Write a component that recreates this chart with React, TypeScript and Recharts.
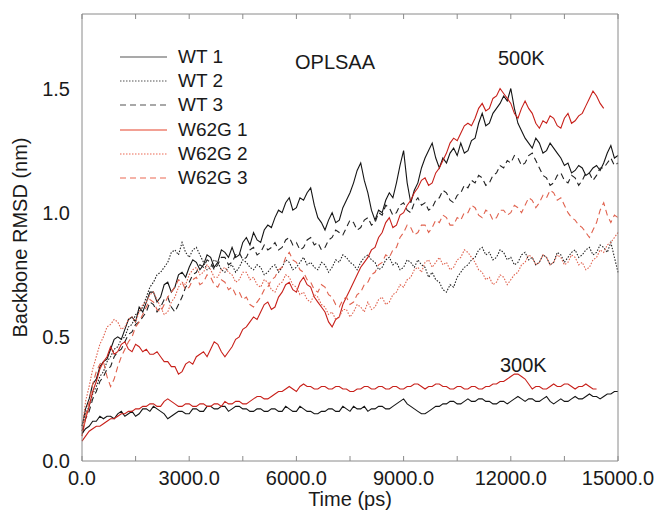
import { Legend, Line, LineChart, XAxis, YAxis } from 'recharts'

// simulation time (ps), one frame every 100 ps
const time = [
  0, 100, 200, 300, 400, 500, 600, 700, 800, 900,
  1000, 1100, 1200, 1300, 1400, 1500, 1600, 1700, 1800, 1900,
  2000, 2100, 2200, 2300, 2400, 2500, 2600, 2700, 2800, 2900,
  3000, 3100, 3200, 3300, 3400, 3500, 3600, 3700, 3800, 3900,
  4000, 4100, 4200, 4300, 4400, 4500, 4600, 4700, 4800, 4900,
  5000, 5100, 5200, 5300, 5400, 5500, 5600, 5700, 5800, 5900,
  6000, 6100, 6200, 6300, 6400, 6500, 6600, 6700, 6800, 6900,
  7000, 7100, 7200, 7300, 7400, 7500, 7600, 7700, 7800, 7900,
  8000, 8100, 8200, 8300, 8400, 8500, 8600, 8700, 8800, 8900,
  9000, 9100, 9200, 9300, 9400, 9500, 9600, 9700, 9800, 9900,
  10000, 10100, 10200, 10300, 10400, 10500, 10600, 10700, 10800, 10900,
  11000, 11100, 11200, 11300, 11400, 11500, 11600, 11700, 11800, 11900,
  12000, 12100, 12200, 12300, 12400, 12500, 12600, 12700, 12800, 12900,
  13000, 13100, 13200, 13300, 13400, 13500, 13600, 13700, 13800, 13900,
  14000, 14100, 14200, 14300, 14400, 14500, 14600, 14700, 14800, 14900,
  15000,
]

// 500K runs, backbone RMSD (nm)
const wt1 = [
  0.14, 0.21, 0.25, 0.31, 0.33, 0.38, 0.40, 0.41, 0.45, 0.49,
  0.50, 0.49, 0.53, 0.57, 0.58, 0.56, 0.62, 0.60, 0.64, 0.68,
  0.68, 0.64, 0.66, 0.71, 0.72, 0.68, 0.70, 0.75, 0.76, 0.74,
  0.78, 0.81, 0.80, 0.77, 0.79, 0.83, 0.82, 0.78, 0.80, 0.85,
  0.84, 0.82, 0.86, 0.82, 0.83, 0.88, 0.90, 0.87, 0.92, 0.89,
  0.88, 0.93, 0.95, 0.94, 0.98, 1.01, 1.00, 1.04, 1.06, 1.01,
  1.02, 1.06, 1.05, 1.08, 1.10, 1.03, 0.98, 0.96, 0.93, 0.97,
  1.00, 0.96, 0.97, 1.02, 1.05, 1.08, 1.12, 1.17, 1.20, 1.13,
  1.08, 1.01, 0.97, 1.01, 1.00, 1.05, 1.08, 1.06, 1.12, 1.19,
  1.25, 1.12, 1.04, 1.09, 1.12, 1.18, 1.22, 1.25, 1.28, 1.22,
  1.18, 1.22, 1.20, 1.24, 1.26, 1.23, 1.28, 1.24, 1.25, 1.29,
  1.30, 1.36, 1.40, 1.35, 1.36, 1.40, 1.42, 1.44, 1.47, 1.45,
  1.50, 1.42, 1.36, 1.33, 1.30, 1.28, 1.26, 1.30, 1.28, 1.24,
  1.25, 1.28, 1.26, 1.24, 1.22, 1.19, 1.20, 1.16, 1.17, 1.19,
  1.18, 1.15, 1.16, 1.18, 1.19, 1.17, 1.20, 1.24, 1.27, 1.22,
  1.23,
]
const wt2 = [
  0.14, 0.19, 0.22, 0.27, 0.30, 0.34, 0.36, 0.40, 0.42, 0.45,
  0.46, 0.49, 0.50, 0.54, 0.55, 0.59, 0.60, 0.62, 0.66, 0.70,
  0.72, 0.75, 0.76, 0.78, 0.80, 0.84, 0.85, 0.83, 0.88, 0.84,
  0.82, 0.85, 0.86, 0.83, 0.80, 0.77, 0.78, 0.81, 0.80, 0.77,
  0.76, 0.78, 0.79, 0.76, 0.78, 0.81, 0.80, 0.78, 0.77, 0.79,
  0.78, 0.75, 0.76, 0.78, 0.79, 0.76, 0.78, 0.81, 0.80, 0.77,
  0.78, 0.80, 0.82, 0.79, 0.80, 0.78, 0.77, 0.80, 0.79, 0.76,
  0.78, 0.81, 0.80, 0.83, 0.82, 0.80, 0.79, 0.77, 0.80, 0.82,
  0.83, 0.81, 0.80, 0.77, 0.78, 0.81, 0.82, 0.79, 0.80, 0.77,
  0.78, 0.81, 0.80, 0.78, 0.81, 0.79, 0.78, 0.74, 0.76, 0.73,
  0.72, 0.69, 0.68, 0.71, 0.70, 0.74, 0.76, 0.78, 0.79, 0.81,
  0.82, 0.85, 0.86, 0.83, 0.84, 0.81, 0.82, 0.85, 0.84, 0.81,
  0.82, 0.79, 0.80, 0.83, 0.84, 0.81, 0.82, 0.79, 0.80, 0.83,
  0.82, 0.79, 0.80, 0.84, 0.83, 0.80, 0.82, 0.84, 0.85, 0.82,
  0.83, 0.85, 0.86, 0.83, 0.84, 0.87, 0.86, 0.84, 0.88, 0.82,
  0.76,
]
const wt3 = [
  0.12, 0.17, 0.20, 0.25, 0.28, 0.32, 0.34, 0.37, 0.38, 0.42,
  0.44, 0.45, 0.48, 0.51, 0.52, 0.55, 0.56, 0.58, 0.60, 0.64,
  0.63, 0.60, 0.62, 0.65, 0.66, 0.62, 0.60, 0.63, 0.66, 0.70,
  0.72, 0.75, 0.76, 0.79, 0.78, 0.81, 0.80, 0.77, 0.79, 0.82,
  0.82, 0.79, 0.80, 0.83, 0.84, 0.81, 0.82, 0.85, 0.86, 0.83,
  0.84, 0.87, 0.85, 0.86, 0.88, 0.85, 0.86, 0.89, 0.90, 0.87,
  0.88, 0.85, 0.86, 0.89, 0.90, 0.87, 0.88, 0.85, 0.86, 0.89,
  0.90, 0.93, 0.92, 0.91, 0.94, 0.97, 0.96, 0.93, 0.94, 0.97,
  0.98, 0.95, 0.96, 1.00, 0.99, 1.03, 1.02, 0.99, 1.00, 1.03,
  1.04, 1.01, 1.00, 1.04, 1.06, 1.03, 1.04, 1.01, 1.02, 1.05,
  1.06, 1.09, 1.08, 1.05, 1.04, 1.07, 1.08, 1.11, 1.10, 1.13,
  1.12, 1.15, 1.14, 1.11, 1.12, 1.15, 1.16, 1.19, 1.18, 1.21,
  1.20, 1.23, 1.22, 1.19, 1.20, 1.23, 1.24, 1.21, 1.18, 1.15,
  1.14, 1.11, 1.12, 1.15, 1.16, 1.13, 1.12, 1.15, 1.14, 1.11,
  1.13, 1.16, 1.16, 1.13, 1.15, 1.18, 1.18, 1.20, 1.22, 1.19,
  1.20,
]
// W62G 1 stops at 14600 ps
const w62g1 = [
  0.10, 0.17, 0.22, 0.28, 0.32, 0.37, 0.40, 0.42, 0.46, 0.43,
  0.44, 0.47, 0.48, 0.45, 0.44, 0.47, 0.46, 0.44, 0.45, 0.43,
  0.43, 0.44, 0.42, 0.40, 0.40, 0.38, 0.38, 0.35, 0.36, 0.39,
  0.40, 0.39, 0.42, 0.43, 0.44, 0.42, 0.45, 0.48, 0.47, 0.44,
  0.42, 0.44, 0.46, 0.49, 0.50, 0.53, 0.54, 0.56, 0.58, 0.57,
  0.60, 0.63, 0.64, 0.61, 0.62, 0.66, 0.68, 0.71, 0.72, 0.69,
  0.68, 0.72, 0.74, 0.71, 0.70, 0.66, 0.64, 0.62, 0.60, 0.56,
  0.54, 0.57, 0.58, 0.63, 0.66, 0.69, 0.72, 0.75, 0.78, 0.80,
  0.82, 0.85, 0.86, 0.90, 0.92, 0.96, 0.98, 0.94, 0.95, 0.99,
  1.00, 1.03, 1.05, 1.08, 1.10, 1.13, 1.14, 1.11, 1.12, 1.16,
  1.18, 1.21, 1.24, 1.28, 1.30, 1.29, 1.32, 1.35, 1.36, 1.35,
  1.38, 1.42, 1.44, 1.41, 1.42, 1.46, 1.47, 1.50, 1.48, 1.46,
  1.44, 1.40, 1.38, 1.42, 1.45, 1.42, 1.40, 1.36, 1.34, 1.37,
  1.36, 1.39, 1.38, 1.35, 1.34, 1.38, 1.40, 1.36, 1.37, 1.39,
  1.40, 1.43, 1.46, 1.49, 1.47, 1.44, 1.42,
]
const w62g2 = [
  0.12, 0.24, 0.30, 0.37, 0.42, 0.47, 0.50, 0.54, 0.55, 0.57,
  0.56, 0.53, 0.54, 0.57, 0.58, 0.56, 0.60, 0.63, 0.64, 0.67,
  0.68, 0.65, 0.62, 0.59, 0.60, 0.64, 0.66, 0.70, 0.72, 0.71,
  0.75, 0.77, 0.78, 0.75, 0.76, 0.79, 0.77, 0.74, 0.74, 0.77,
  0.78, 0.76, 0.75, 0.72, 0.73, 0.76, 0.76, 0.73, 0.74, 0.71,
  0.70, 0.73, 0.72, 0.69, 0.68, 0.71, 0.72, 0.75, 0.74, 0.71,
  0.70, 0.67, 0.68, 0.65, 0.64, 0.67, 0.66, 0.63, 0.62, 0.59,
  0.60, 0.57, 0.58, 0.61, 0.61, 0.58, 0.60, 0.63, 0.62, 0.60,
  0.64, 0.61, 0.62, 0.65, 0.66, 0.63, 0.64, 0.67, 0.68, 0.71,
  0.70, 0.73, 0.74, 0.77, 0.78, 0.76, 0.80, 0.81, 0.78, 0.80,
  0.82, 0.79, 0.80, 0.77, 0.78, 0.81, 0.82, 0.85, 0.84, 0.82,
  0.80, 0.77, 0.76, 0.73, 0.74, 0.71, 0.72, 0.75, 0.74, 0.71,
  0.73, 0.75, 0.76, 0.79, 0.80, 0.83, 0.82, 0.79, 0.80, 0.83,
  0.82, 0.79, 0.80, 0.83, 0.82, 0.79, 0.80, 0.83, 0.82, 0.79,
  0.80, 0.77, 0.78, 0.81, 0.82, 0.85, 0.84, 0.87, 0.88, 0.90,
  0.92,
]
const w62g3 = [
  0.10, 0.18, 0.24, 0.31, 0.36, 0.39, 0.40, 0.34, 0.30, 0.33,
  0.38, 0.42, 0.45, 0.48, 0.50, 0.54, 0.56, 0.59, 0.62, 0.65,
  0.64, 0.61, 0.60, 0.63, 0.66, 0.68, 0.70, 0.73, 0.72, 0.69,
  0.70, 0.73, 0.74, 0.71, 0.72, 0.75, 0.74, 0.71, 0.70, 0.73,
  0.72, 0.69, 0.70, 0.67, 0.68, 0.65, 0.66, 0.63, 0.62, 0.64,
  0.66, 0.69, 0.70, 0.73, 0.74, 0.77, 0.78, 0.82, 0.84, 0.81,
  0.80, 0.77, 0.76, 0.73, 0.72, 0.69, 0.68, 0.71, 0.70, 0.67,
  0.66, 0.63, 0.62, 0.65, 0.66, 0.63, 0.64, 0.67, 0.68, 0.71,
  0.72, 0.75, 0.76, 0.79, 0.80, 0.83, 0.82, 0.85, 0.86, 0.90,
  0.92, 0.95, 0.94, 0.91, 0.92, 0.95, 0.95, 0.92, 0.94, 0.97,
  0.96, 0.99, 0.98, 0.95, 0.95, 0.98, 0.97, 1.00, 1.00, 1.03,
  1.02, 0.99, 0.98, 1.01, 1.00, 0.97, 0.98, 1.01, 1.01, 0.99,
  1.00, 1.03, 1.02, 1.00, 1.03, 1.06, 1.05, 1.02, 1.04, 1.07,
  1.06, 1.09, 1.08, 1.05, 1.06, 1.03, 1.00, 0.98, 0.97, 0.95,
  0.94, 0.92, 0.90, 0.93, 0.96, 1.01, 1.04, 0.99, 0.96, 0.99,
  0.98,
]

// 300K runs
const wt300 = [
  0.11, 0.13, 0.14, 0.16, 0.16, 0.18, 0.17, 0.18, 0.18, 0.17,
  0.19, 0.20, 0.18, 0.19, 0.20, 0.18, 0.19, 0.21, 0.21, 0.20,
  0.22, 0.21, 0.20, 0.19, 0.17, 0.18, 0.19, 0.20, 0.20, 0.19,
  0.19, 0.21, 0.21, 0.20, 0.20, 0.22, 0.22, 0.21, 0.21, 0.22,
  0.22, 0.20, 0.21, 0.22, 0.22, 0.21, 0.21, 0.20, 0.20, 0.21,
  0.21, 0.20, 0.20, 0.21, 0.21, 0.20, 0.20, 0.22, 0.21, 0.20,
  0.20, 0.22, 0.21, 0.20, 0.20, 0.19, 0.19, 0.20, 0.20, 0.21,
  0.21, 0.20, 0.20, 0.22, 0.21, 0.20, 0.22, 0.21, 0.21, 0.22,
  0.20, 0.21, 0.21, 0.22, 0.22, 0.21, 0.21, 0.22, 0.23, 0.24,
  0.25, 0.23, 0.22, 0.21, 0.20, 0.19, 0.19, 0.20, 0.21, 0.22,
  0.22, 0.23, 0.23, 0.24, 0.24, 0.23, 0.23, 0.24, 0.25, 0.24,
  0.24, 0.25, 0.25, 0.24, 0.24, 0.23, 0.23, 0.24, 0.24, 0.23,
  0.24, 0.25, 0.26, 0.25, 0.24, 0.25, 0.25, 0.24, 0.24, 0.25,
  0.26, 0.24, 0.23, 0.24, 0.25, 0.24, 0.24, 0.25, 0.26, 0.25,
  0.25, 0.26, 0.27, 0.26, 0.26, 0.25, 0.26, 0.27, 0.27, 0.28,
  0.28,
]
// W62G at 300K stops at 14400 ps
const w62g300 = [
  0.08, 0.10, 0.12, 0.13, 0.14, 0.14, 0.15, 0.16, 0.17, 0.17,
  0.18, 0.19, 0.19, 0.20, 0.20, 0.21, 0.21, 0.22, 0.22, 0.23,
  0.23, 0.22, 0.22, 0.24, 0.25, 0.24, 0.23, 0.22, 0.22, 0.23,
  0.23, 0.22, 0.22, 0.23, 0.23, 0.22, 0.22, 0.23, 0.23, 0.22,
  0.24, 0.23, 0.23, 0.24, 0.24, 0.23, 0.23, 0.24, 0.25, 0.26,
  0.26, 0.25, 0.25, 0.26, 0.27, 0.28, 0.28, 0.29, 0.30, 0.29,
  0.28, 0.30, 0.31, 0.30, 0.30, 0.29, 0.29, 0.30, 0.30, 0.29,
  0.29, 0.30, 0.30, 0.29, 0.29, 0.28, 0.28, 0.29, 0.29, 0.30,
  0.30, 0.29, 0.29, 0.30, 0.30, 0.29, 0.29, 0.30, 0.30, 0.29,
  0.29, 0.30, 0.30, 0.31, 0.31, 0.30, 0.29, 0.30, 0.30, 0.31,
  0.31, 0.30, 0.30, 0.29, 0.29, 0.30, 0.30, 0.29, 0.29, 0.30,
  0.30, 0.29, 0.29, 0.30, 0.30, 0.31, 0.31, 0.32, 0.32, 0.33,
  0.34, 0.35, 0.35, 0.34, 0.33, 0.31, 0.29, 0.30, 0.30, 0.29,
  0.29, 0.30, 0.31, 0.30, 0.30, 0.31, 0.31, 0.30, 0.29, 0.30,
  0.30, 0.31, 0.30, 0.29, 0.29,
]

const xMajor = [0, 3000, 6000, 9000, 12000, 15000]
const xMinor = [0, 1500, 3000, 4500, 6000, 7500, 9000, 10500, 12000, 13500, 15000]
const yMajor = [0, 0.5, 1.0, 1.5]
const yMinor = [0, 0.25, 0.5, 0.75, 1.0, 1.25, 1.5, 1.75]

const data = time.map((t, i) => ({
  t,
  wt1: wt1[i],
  wt2: wt2[i],
  wt3: wt3[i],
  w62g1: w62g1[i],
  w62g2: w62g2[i],
  w62g3: w62g3[i],
  wt300: wt300[i],
  w62g300: w62g300[i],
}))

const DOT = '1.5 1.5'
const DASH = '6 4'

const series = [
  { key: 'wt1', name: 'WT 1', color: '#151515', dash: undefined, legend: '#8c8c8c' },
  { key: 'wt2', name: 'WT 2', color: '#222222', dash: DOT, legend: '#8c8c8c' },
  { key: 'wt3', name: 'WT 3', color: '#222222', dash: DASH, legend: '#8c8c8c' },
  { key: 'w62g1', name: 'W62G 1', color: '#c8201a', dash: undefined, legend: '#ee8070' },
  { key: 'w62g2', name: 'W62G 2', color: '#e0624e', dash: DOT, legend: '#f29a8c' },
  { key: 'w62g3', name: 'W62G 3', color: '#e0624e', dash: DASH, legend: '#f29a8c' },
]

const axisColor = '#8a8a8a'
const textColor = '#1a1a1a'

function RmsdLegend() {
  return (
    <div style={{ fontSize: 19, color: textColor, lineHeight: '24.2px' }}>
      {series.map((s) => (
        <div key={s.key} style={{ display: 'flex', alignItems: 'center', height: 24.2 }}>
          <svg width={47} height={6} style={{ marginRight: 11 }}>
            <line x1={0} y1={3} x2={47} y2={3} stroke={s.legend} strokeWidth={1.4} strokeDasharray={s.dash} />
          </svg>
          <span>{s.name}</span>
        </div>
      ))}
    </div>
  )
}

const note = (text: string, left: number, top: number) => (
  <div style={{ position: 'absolute', left, top, fontSize: 20, color: textColor, lineHeight: '20px' }}>{text}</div>
)

export default function App() {
  return (
    <div
      style={{
        position: 'absolute',
        left: 0,
        top: 0,
        width: 655,
        height: 512,
        background: '#fff',
        fontFamily: '"Liberation Sans", Arial, sans-serif',
        overflow: 'hidden',
      }}
    >
      <LineChart width={655} height={512} data={data} margin={{ top: 14, right: 37, bottom: 21, left: 22 }}>
        <XAxis
          xAxisId="b"
          dataKey="t"
          type="number"
          domain={[0, 15000]}
          ticks={xMajor}
          tickFormatter={(v: number) => v.toFixed(1)}
          tickLine={false}
          tickMargin={4}
          stroke={axisColor}
          tick={{ fill: textColor, fontSize: 20 }}
          height={30}
          label={{ value: 'Time (ps)', position: 'insideBottom', offset: -15, fill: textColor, fontSize: 20 }}
        />
        <XAxis
          xAxisId="bMinor"
          dataKey="t"
          type="number"
          domain={[0, 15000]}
          ticks={xMinor}
          mirror
          tickFormatter={() => ''}
          axisLine={false}
          tickSize={5}
          stroke={axisColor}
        />
        <XAxis
          xAxisId="top"
          orientation="top"
          dataKey="t"
          type="number"
          domain={[0, 15000]}
          ticks={xMinor}
          mirror
          tickFormatter={() => ''}
          tickSize={5}
          stroke={axisColor}
        />
        <YAxis
          yAxisId="l"
          type="number"
          domain={[0, 1.8]}
          ticks={yMajor}
          tickFormatter={(v: number) => v.toFixed(1)}
          tickLine={false}
          tickMargin={6}
          width={60}
          stroke={axisColor}
          tick={{ fill: textColor, fontSize: 20 }}
          label={{
            value: 'Backbone RMSD (nm)',
            angle: -90,
            position: 'insideLeft',
            offset: -2,
            fill: textColor,
            fontSize: 20,
            style: { textAnchor: 'middle' },
          }}
        />
        <YAxis
          yAxisId="lMinor"
          type="number"
          domain={[0, 1.8]}
          ticks={yMinor}
          mirror
          tickFormatter={() => ''}
          axisLine={false}
          tickSize={5}
          stroke={axisColor}
        />
        <YAxis
          yAxisId="r"
          orientation="right"
          type="number"
          domain={[0, 1.8]}
          ticks={yMinor}
          mirror
          tickFormatter={() => ''}
          tickSize={5}
          stroke={axisColor}
        />
        <Legend
          layout="vertical"
          align="center"
          verticalAlign="middle"
          content={() => <RmsdLegend />}
          wrapperStyle={{ left: 120, top: 45, width: 'auto', height: 'auto' }}
        />
        {series.map((s) => (
          <Line
            key={s.key}
            xAxisId="b"
            yAxisId="l"
            dataKey={s.key}
            name={s.name}
            stroke={s.color}
            strokeWidth={1.1}
            strokeDasharray={s.dash}
            dot={false}
            isAnimationActive={false}
          />
        ))}
        <Line xAxisId="b" yAxisId="l" dataKey="wt300" stroke="#151515" strokeWidth={1.1} dot={false} legendType="none" isAnimationActive={false} />
        <Line xAxisId="b" yAxisId="l" dataKey="w62g300" stroke="#c8201a" strokeWidth={1.1} dot={false} legendType="none" isAnimationActive={false} />
      </LineChart>
      {note('OPLSAA', 295, 52)}
      {note('500K', 498, 48)}
      {note('300K', 500, 355)}
    </div>
  )
}
